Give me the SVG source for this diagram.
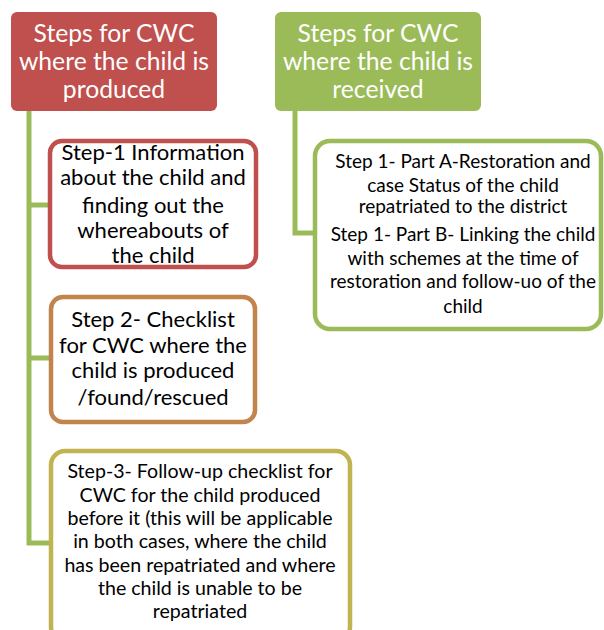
<svg xmlns="http://www.w3.org/2000/svg" width="604" height="630" viewBox="0 0 604 630">
<style>
.hdr{font-family:Lato,"Open Sans",sans-serif;font-size:24.7px;fill:#fff;text-anchor:middle}
.t{font-family:Lato,"Open Sans",sans-serif;fill:#000;text-anchor:middle}
.box{fill:#fff;stroke-width:4.5}
.conn{fill:none;stroke:#9BBB59;stroke-width:5}
</style>
<rect width="604" height="630" fill="#fff"/>
<g id="connectors">
<path class="conn" d="M29,111 V543 H50 M29,205 H50 M29,358 H50"/>
<path class="conn" d="M295,111 V233 H315"/>
</g>
<g id="hdr-produced">
<rect x="11" y="12" width="206" height="99" rx="6" fill="#C0504D"/>
<text class="hdr" x="114" y="42">Steps for CWC</text>
<text class="hdr" x="114" y="70">where the child is</text>
<text class="hdr" x="114" y="98">produced</text>
</g>
<g id="hdr-received">
<rect x="275" y="12" width="206" height="99" rx="6" fill="#9BBB59"/>
<text class="hdr" x="378" y="42">Steps for CWC</text>
<text class="hdr" x="378" y="70">where the child is</text>
<text class="hdr" x="378" y="98">received</text>
</g>
<g id="step1">
<rect class="box" x="50" y="141" width="206" height="126" rx="12" stroke="#C0504D"/>
<g class="t" font-size="22">
<text x="153" y="160">Step-1 Information</text>
<text x="153" y="185">about the child and</text>
<text x="153" y="213">finding out the</text>
<text x="153" y="238">whereabouts of</text>
<text x="153" y="263">the child</text>
</g>
</g>
<g id="step2">
<rect class="box" x="51" y="297" width="204" height="125" rx="12" stroke="#C3834C"/>
<g class="t" font-size="22">
<text x="153" y="327">Step 2- Checklist</text>
<text x="153" y="353">for CWC where the</text>
<text x="153" y="378">child is produced</text>
<text x="153" y="405">/found/rescued</text>
</g>
</g>
<g id="step3">
<rect class="box" x="51" y="451" width="299" height="190" rx="14" stroke="#C0B352"/>
<g class="t" font-size="19.6">
<text x="200" y="478">Step-3- Follow-up checklist for</text>
<text x="200" y="502">CWC for the child produced</text>
<text x="200" y="525">before it (this will be applicable</text>
<text x="200" y="548">in both cases, where the child</text>
<text x="200" y="572">has been repatriated and where</text>
<text x="200" y="595">the child is unable to be</text>
<text x="200" y="618">repatriated</text>
</g>
</g>
<g id="step1-received">
<rect class="box" x="315" y="141" width="286" height="188" rx="15" stroke="#9BBB59"/>
<g class="t" font-size="19">
<text x="463" y="168">Step 1-  Part A-Restoration and</text>
<text x="463" y="192">case Status of the child</text>
<text x="463" y="213">repatriated to the district</text>
<text x="463" y="241">Step 1- Part B- Linking the child</text>
<text x="463" y="265">with schemes at the time of</text>
<text x="463" y="288">restoration and follow-uo of the</text>
<text x="463" y="313">child</text>
</g>
</g>
</svg>
